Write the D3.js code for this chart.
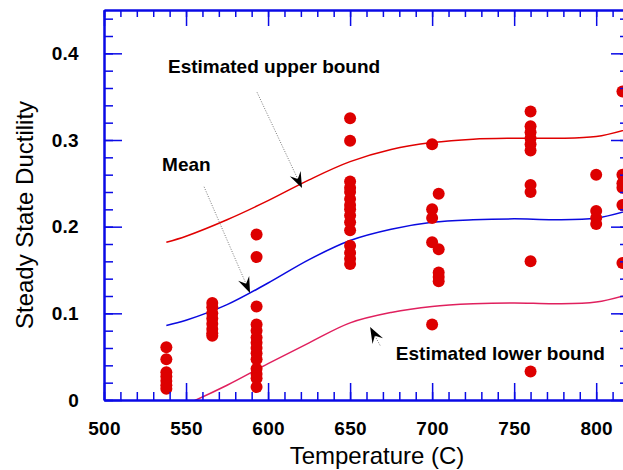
<!DOCTYPE html>
<html>
<head>
<meta charset="utf-8">
<script src="https://cdn.jsdelivr.net/npm/d3@7"></script>
<style>
  html, body { margin: 0; padding: 0; background: #ffffff; }
  svg { display: block; }
</style>
</head>
<body>
<script>
// Fitted curves, sampled along temperature (C)
const curveTemps  = [538, 550, 575, 600, 625, 650, 675, 700, 725, 750, 775, 800, 820];
const upperBound  = [0.182, 0.189, 0.208, 0.230, 0.254, 0.275, 0.289, 0.297, 0.301, 0.302, 0.302, 0.304, 0.313];
const meanCurve   = [0.086, 0.092, 0.110, 0.135, 0.162, 0.184, 0.197, 0.205, 0.208, 0.209, 0.208, 0.210, 0.219];
const lowerBound  = [-0.014, -0.005, 0.017, 0.042, 0.066, 0.089, 0.101, 0.108, 0.111, 0.112, 0.111, 0.113, 0.122];

// Measured ductility, grouped by test temperature
const testTemps = [538, 566, 593, 650, 700, 704, 760, 800, 816];
const ductility = [
  [0.061, 0.047, 0.032, 0.027, 0.022, 0.017, 0.013],
  [0.112, 0.107, 0.100, 0.094, 0.088, 0.082, 0.077, 0.074],
  [0.191, 0.165, 0.108, 0.087, 0.080, 0.072, 0.066, 0.060, 0.054, 0.047, 0.036, 0.030, 0.025, 0.015],
  [0.325, 0.299, 0.252, 0.245, 0.240, 0.232, 0.225, 0.220, 0.213, 0.205, 0.196, 0.178, 0.170, 0.163, 0.157],
  [0.295, 0.220, 0.210, 0.182, 0.087],
  [0.238, 0.174, 0.147, 0.142, 0.137],
  [0.333, 0.316, 0.309, 0.302, 0.295, 0.288, 0.248, 0.240, 0.160, 0.033],
  [0.260, 0.218, 0.210, 0.203],
  [0.356, 0.260, 0.250, 0.245, 0.225, 0.158]
];

// Axis ticks
const xTickValues = [500, 550, 600, 650, 700, 750, 800];
const xTickLabels = ["500", "550", "600", "650", "700", "750", "800"];
const yTickValues = [0, 0.1, 0.2, 0.3, 0.4];
const yTickLabels = ["0", "0.1", "0.2", "0.3", "0.4"];

// Callout labels: text anchor point and arrow tail / tip, in data units
const noteLabels = ["Estimated upper bound", "Mean", "Estimated lower bound"];
const noteText   = [[539, 0.377], [535.4, 0.264], [677.9, 0.046]];
const noteTail   = [[593.3, 0.355], [561, 0.246], [668.3, 0.063]];
const noteTip    = [[620.7, 0.2445], [589, 0.1234], [662.2, 0.0842]];

const W = 623, H = 470;
const AXIS = "#0a0ae6";
const FONT = "'Liberation Sans', Arial, Helvetica, sans-serif";

const svg = d3.select("body").append("svg")
  .attr("width", W).attr("height", H)
  .style("font-family", FONT);

const x = d3.scaleLinear().domain([500, 820]).range([104, 629]);
const y = d3.scaleLinear().domain([0, 0.45]).range([400, 10]);

// Clip region for the fitted curves
svg.append("clipPath").attr("id", "plotClip")
  .append("rect")
  .attr("x", x(500)).attr("y", y(0.45))
  .attr("width", x(820) - x(500)).attr("height", y(0) - y(0.45));

// Curves
const line = d3.line()
  .x(d => x(d[0])).y(d => y(d[1]))
  .curve(d3.curveCatmullRom.alpha(0.5));

const curves = [
  { vals: upperBound, color: "#e00000" },
  { vals: meanCurve,  color: "#0a0ae0" },
  { vals: lowerBound, color: "#e0205e" }
];
const curveG = svg.append("g").attr("clip-path", "url(#plotClip)");
curves.forEach(c => {
  curveG.append("path")
    .datum(curveTemps.map((t, i) => [t, c.vals[i]]))
    .attr("d", line)
    .attr("fill", "none")
    .attr("stroke", c.color)
    .attr("stroke-width", 1.5);
});

// Measured points
const points = [];
testTemps.forEach((t, i) => ductility[i].forEach(v => points.push([t, v])));
svg.append("g").selectAll("circle")
  .data(points)
  .join("circle")
  .attr("cx", d => x(d[0]))
  .attr("cy", d => y(d[1]))
  .attr("r", 6)
  .attr("fill", "#dd0000");

// Axes: major and minor ticks, all pointing into the plot
function styleAxis(g, width) {
  g.select(".domain").attr("stroke", AXIS).attr("stroke-width", 2);
  g.selectAll(".tick line").attr("stroke", AXIS).attr("stroke-width", width);
}
const xMinor = d3.range(500, 821, 10);
const yMinor = d3.range(0, 0.4501, 0.02);

// bottom
svg.append("g").attr("transform", `translate(0,${y(0)})`)
  .call(d3.axisBottom(x).tickValues(xMinor).tickSize(-8).tickSizeOuter(0).tickFormat(""))
  .call(g => styleAxis(g, 1.5));
const xAxis = svg.append("g").attr("transform", `translate(0,${y(0)})`)
  .call(d3.axisBottom(x).tickValues(xTickValues).tickSize(-17).tickSizeOuter(0)
    .tickPadding(22).tickFormat((d, i) => xTickLabels[i]))
  .call(g => styleAxis(g, 1.5));
xAxis.selectAll("text")
  .attr("fill", "#000").style("font-size", "19px").style("font-weight", "bold")
  .style("letter-spacing", "0.3px").style("font-family", FONT);

// top
svg.append("g").attr("transform", `translate(0,${y(0.45)})`)
  .call(d3.axisTop(x).tickValues(xMinor).tickSize(-7).tickSizeOuter(0).tickFormat(""))
  .call(g => styleAxis(g, 1.5));
svg.append("g").attr("transform", `translate(0,${y(0.45)})`)
  .call(d3.axisTop(x).tickValues(xTickValues).tickSize(-16).tickSizeOuter(0).tickFormat(""))
  .call(g => styleAxis(g, 1.5));

// left
svg.append("g").attr("transform", `translate(${x(500)},0)`)
  .call(d3.axisLeft(y).tickValues(yMinor).tickSize(-9).tickSizeOuter(0).tickFormat(""))
  .call(g => styleAxis(g, 1.5));
const yAxis = svg.append("g").attr("transform", `translate(${x(500)},0)`)
  .call(d3.axisLeft(y).tickValues(yTickValues).tickSize(-18).tickSizeOuter(0)
    .tickPadding(25).tickFormat((d, i) => yTickLabels[i]))
  .call(g => styleAxis(g, 1.5));
yAxis.selectAll("text")
  .attr("fill", "#000").style("font-size", "19px").style("font-weight", "bold")
  .style("letter-spacing", "0.3px").style("font-family", FONT);

// right
svg.append("g").attr("transform", `translate(${x(820)},0)`)
  .call(d3.axisRight(y).tickValues(yMinor).tickSize(-9).tickSizeOuter(0).tickFormat(""))
  .call(g => styleAxis(g, 1.5));
svg.append("g").attr("transform", `translate(${x(820)},0)`)
  .call(d3.axisRight(y).tickValues(yTickValues).tickSize(-18).tickSizeOuter(0).tickFormat(""))
  .call(g => styleAxis(g, 1.5));

// Axis titles
svg.append("text")
  .attr("x", 377).attr("y", 464)
  .attr("text-anchor", "middle")
  .style("font-size", "24px")
  .text("Temperature (C)");
svg.append("text")
  .attr("transform", "translate(33,215) rotate(-90)")
  .attr("text-anchor", "middle")
  .style("font-size", "24px")
  .text("Steady State Ductility");

// Callouts
const notes = svg.append("g");
noteLabels.forEach((lab, i) => {
  const [tx, ty] = [x(noteTail[i][0]), y(noteTail[i][1])];
  const [px, py] = [x(noteTip[i][0]), y(noteTip[i][1])];
  const ang = Math.atan2(py - ty, px - tx);
  const L = 16, hw = 6, notch = 10;
  const ux = Math.cos(ang), uy = Math.sin(ang);
  const nx = -uy, ny = ux;
  const bx = px - ux * L, by = py - uy * L;
  const mx = px - ux * notch, my = py - uy * notch;

  notes.append("line")
    .attr("x1", tx).attr("y1", ty).attr("x2", mx).attr("y2", my)
    .attr("stroke", "#777").attr("stroke-width", 1)
    .attr("stroke-dasharray", "1,1.5");
  notes.append("path")
    .attr("d", `M${px},${py}L${bx + nx * hw},${by + ny * hw}L${mx},${my}L${bx - nx * hw},${by - ny * hw}Z`)
    .attr("fill", "#000");
  notes.append("text")
    .attr("x", x(noteText[i][0])).attr("y", y(noteText[i][1]))
    .style("font-size", "19px").style("font-weight", "bold")
    .text(lab);
});
</script>
</body>
</html>
